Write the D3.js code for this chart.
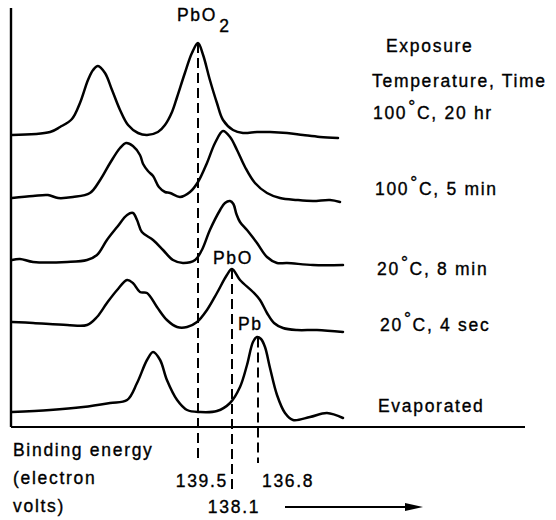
<!DOCTYPE html>
<html>
<head>
<meta charset="utf-8">
<script src="https://cdn.jsdelivr.net/npm/d3@7"></script>
<style>
html,body{margin:0;padding:0;background:#fff;}
svg{display:block;}
text{font-family:"Liberation Sans",Arial,Helvetica,sans-serif;fill:#000;stroke:#000;stroke-width:0.35px;font-size:17.5px;letter-spacing:1.7px;}
</style>
</head>
<body>
<svg id="chart" width="556" height="520"></svg>
<script>
// ---------- DATA (binding energy in eV, intensity in arbitrary units above each trace's baseline) ----------
const curve100C20hr = [
  [147.16,0],[145.59,3],[145.18,8],[144.69,16],[144.36,32],[144.03,55],[143.82,65],[143.62,69],
  [143.33,62],[143.04,45],[142.71,25],[142.38,10],[141.97,2],[141.60,0],[141.15,3],[140.86,10],
  [140.57,23],[140.36,38],[140.04,62],[139.75,82],[139.50,92],[139.29,80],[139.01,55],[138.72,32],
  [138.47,15],[138.05,5],[137.55,2],[136.85,3],[136.20,3],[135.35,2],[134.55,0],[133.70,-2],[132.80,-3]
];
const curve100C5min = [
  [147.16,0],[146.29,2],[145.68,3],[145.26,0],[144.65,1],[143.95,5],[143.53,18],[143.12,35],
  [142.71,50],[142.46,55],[142.18,52],[141.89,43],[141.76,34],[141.56,27],[141.35,22],[141.11,11],
  [140.86,6],[140.65,5],[140.24,1],[139.83,6],[139.50,16],[139.13,35],[138.80,55],[138.47,67],
  [138.18,61],[137.85,48],[137.45,31],[136.95,15],[136.35,5],[135.70,0],[134.85,-2],[134.05,-3],
  [133.20,-2],[132.70,-4]
];
const curve20C8min = [
  [147.16,1],[146.83,2],[146.29,-1],[144.89,-1],[144.07,1],[143.66,6],[143.25,21],[142.83,34],
  [142.42,46],[142.18,48],[142.01,41],[141.81,29],[141.35,21],[140.94,11],[140.53,1],[140.12,-2],
  [139.62,1],[139.34,11],[139.01,31],[138.59,51],[138.39,58],[138.18,60],[138.03,57],[137.88,47],
  [137.70,39],[137.35,31],[136.85,18],[136.35,4],[135.85,-2],[135.35,-2],[134.05,-4],[132.55,-4]
];
const curve20C4sec = [
  [147.16,1],[146.29,0],[144.89,-2],[144.07,-2],[143.66,6],[143.25,20],[142.83,33],[142.42,43],
  [142.18,40],[141.89,31],[141.60,30],[141.19,16],[140.78,3],[140.36,-4],[139.95,-4],[139.54,1],
  [139.13,13],[138.72,30],[138.31,48],[138.10,54],[137.70,43],[137.05,31],[136.70,23],[136.35,10],
  [136.00,0],[135.55,-5],[134.85,-7],[133.85,-7],[132.55,-9]
];
const curveEvaporated = [
  [147.16,0],[145.59,2],[144.23,5],[143.12,9],[142.42,12],[142.01,29],[141.60,52],[141.35,60],
  [141.06,52],[140.78,32],[140.36,12],[139.95,2],[139.42,0],[138.72,1],[138.18,9],[137.70,25],
  [137.35,47],[137.05,70],[136.85,75],[136.65,73],[136.45,65],[136.20,44],[135.85,17],[135.45,-1],
  [135.05,-8],[134.20,-5],[133.35,-1],[132.55,-6]
];
const traceOffsets = [292, 229, 166, 104, 15];   // vertical stacking offset of each trace
const conditionTemps = ["100", "100", "20", "20", ""];
const conditionTimes = ["20 hr", "5 min", "8 min", "4 sec", ""];
const evaporatedLabel = "Evaporated";
const peakEnergies = [139.5, 138.1, 136.8];
const peakTickLabels = ["139.5", "138.1", "136.8"];
const peakSpecies = ["PbO", "PbO", "Pb"];
const peakSpeciesSub = ["2", "", ""];
const peakTrace = [0, 3, 4];
const legendTitle = ["Exposure", "Temperature, Time"];
const axisTitle = ["Binding energy", "(electron", "volts)"];

const traces = [curve100C20hr, curve100C5min, curve20C8min, curve20C4sec, curveEvaporated];

// ---------- LAYOUT ----------
const svg = d3.select("#chart");
const x = d3.scaleLinear().domain([139.5, 138.1, 136.8]).range([198, 232, 258]);
const y = d3.scaleLinear().domain([0, 400]).range([427, 27]);

const frameLeft = 11, frameTop = 8, frameRight = 525;

// frame lines
svg.append("line").attr("x1", frameLeft).attr("x2", frameLeft).attr("y1", frameTop).attr("y2", y(0))
  .attr("stroke", "#000").attr("stroke-width", 2.4);
svg.append("line").attr("x1", frameLeft).attr("x2", frameRight).attr("y1", y(0)).attr("y2", y(0))
  .attr("stroke", "#000").attr("stroke-width", 2.2);

// traces
const line = d3.line().curve(d3.curveCatmullRom.alpha(0.5));
traces.forEach((tr, i) => {
  svg.append("path")
    .attr("d", line(tr.map(d => [x(d[0]), y(traceOffsets[i] + d[1])])))
    .attr("fill", "none").attr("stroke", "#000").attr("stroke-width", 2.5)
    .attr("stroke-linejoin", "round").attr("stroke-linecap", "round");
});

// intensity of trace at an energy (linear interpolation of the read points)
function valueAt(tr, e) {
  for (let k = 0; k < tr.length - 1; k++) {
    const a = tr[k], b = tr[k + 1];
    if ((e <= a[0] && e >= b[0])) {
      const t = (a[0] - e) / (a[0] - b[0]);
      return a[1] + t * (b[1] - a[1]);
    }
  }
  return 0;
}

// dashed peak markers
const dashBottoms = [462, 494, 463];
peakEnergies.forEach((e, i) => {
  const ti = peakTrace[i];
  const top = y(traceOffsets[ti] + valueAt(traces[ti], e));
  svg.append("line").attr("x1", x(e)).attr("x2", x(e)).attr("y1", top).attr("y2", dashBottoms[i])
    .attr("stroke", "#000").attr("stroke-width", 2).attr("stroke-dasharray", "10,5");
});

// peak tick labels
svg.append("text").attr("x", x(peakEnergies[1]) - 4).attr("y", 487).attr("text-anchor", "end").text(peakTickLabels[0]);
svg.append("text").attr("x", x(peakEnergies[1]) + 2).attr("y", 513).attr("text-anchor", "middle").text(peakTickLabels[1]);
svg.append("text").attr("x", x(peakEnergies[2]) + 4).attr("y", 487).attr("text-anchor", "start").text(peakTickLabels[2]);

// species labels
const speciesPos = [[x(139.5) - 21, 21], [x(138.1) - 19, 264], [x(136.8) - 20, 330]];
peakSpecies.forEach((s, i) => {
  const t = svg.append("text").attr("x", speciesPos[i][0]).attr("y", speciesPos[i][1]);
  t.append("tspan").text(s);
  if (peakSpeciesSub[i]) t.append("tspan").attr("dx", 2).attr("dy", 11).text(peakSpeciesSub[i]);
});

// legend title
svg.append("text").attr("x", 386).attr("y", 52).text(legendTitle[0]);
svg.append("text").attr("x", 372).attr("y", 87).text(legendTitle[1]);

// condition labels
const labelY = [119, 195, 275, 331, 412];
const labelX = [373, 375, 377, 380, 378];
conditionTemps.forEach((tmp, i) => {
  const t = svg.append("text").attr("x", labelX[i]).attr("y", labelY[i]);
  if (tmp) {
    t.append("tspan").text(tmp);
    t.append("tspan").attr("dy", -6).attr("dx", 1).text("°");
    t.append("tspan").attr("dy", 6).text("C, " + conditionTimes[i]);
  } else {
    t.text(evaporatedLabel);
  }
});

// axis title
const axisTitleY = [456, 484, 512];
axisTitle.forEach((s, i) => {
  svg.append("text").attr("x", 13).attr("y", axisTitleY[i]).text(s);
});

// direction arrow
svg.append("line").attr("x1", 285).attr("x2", 410).attr("y1", 507).attr("y2", 507)
  .attr("stroke", "#000").attr("stroke-width", 2);
svg.append("path").attr("d", "M405,503 L423,507 L405,511 Z").attr("fill", "#000");
</script>
</body>
</html>
